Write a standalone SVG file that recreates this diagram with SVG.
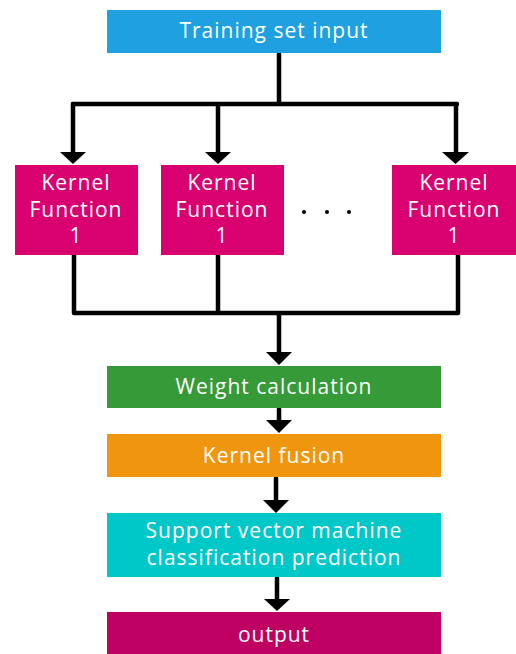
<svg xmlns="http://www.w3.org/2000/svg" width="516" height="654" viewBox="0 0 516 654">
<defs>
<style>
.t{font-family:"Open Sans","Noto Sans",sans-serif;font-size:21px;letter-spacing:1px;fill:#fff;text-anchor:middle}
.c{fill:none;stroke:#000;stroke-width:4.5;stroke-linejoin:round;stroke-linecap:round}
</style>
</defs>
<rect width="516" height="654" fill="#fff"/>
<g id="connectors">
<path class="c" d="M279,54 V104 M73,104 H457"/>
<path class="c" d="M73,104 V152"/>
<path d="M60,152 L86,152 L73,164 Z"/>
<path class="c" d="M218,104 V152"/>
<path d="M205,152 L231,152 L218,164 Z"/>
<path class="c" d="M456,104 V152"/>
<path d="M442,152 L469,152 L455.5,164 Z"/>
<path class="c" d="M74,255 V313 H458 V255 M218,255 V313 M279,313 V352"/>
<path d="M266,352 L292,352 L279,365 Z"/>
<path class="c" d="M279,409 V421"/>
<path d="M266,420 L292,420 L279,433 Z"/>
<path class="c" d="M276,478 V501"/>
<path d="M263,500 L289,500 L276,513 Z"/>
<path class="c" d="M277,578 V600"/>
<path d="M264,599 L290,599 L277,611 Z"/>
</g>
<g id="training-set-input">
<rect x="107" y="10" width="334" height="43" fill="#1EA0E1"/>
<text class="t" x="274" y="38">Training set input</text>
</g>
<g id="kernel-1">
<rect x="15" y="165" width="123" height="90" fill="#D9006F"/>
<text class="t" x="76" y="190">Kernel</text>
<text class="t" x="76" y="217">Function</text>
<text class="t" x="76" y="243">1</text>
</g>
<g id="kernel-2">
<rect x="161" y="165" width="123" height="90" fill="#D9006F"/>
<text class="t" x="222" y="190">Kernel</text>
<text class="t" x="222" y="217">Function</text>
<text class="t" x="222" y="243">1</text>
</g>
<g id="ellipsis">
<circle cx="304" cy="212" r="2" fill="#000"/>
<circle cx="327" cy="212" r="2" fill="#000"/>
<circle cx="349" cy="212" r="2" fill="#000"/>
</g>
<g id="kernel-n">
<rect x="392" y="165" width="124" height="90" fill="#D9006F"/>
<text class="t" x="454" y="190">Kernel</text>
<text class="t" x="454" y="217">Function</text>
<text class="t" x="454" y="243">1</text>
</g>
<g id="weight-calculation">
<rect x="107" y="366" width="334" height="42" fill="#359A37"/>
<text class="t" x="274" y="394">Weight calculation</text>
</g>
<g id="kernel-fusion">
<rect x="107" y="434" width="334" height="43" fill="#F0960E"/>
<text class="t" x="274" y="463">Kernel fusion</text>
</g>
<g id="svm">
<rect x="107" y="513" width="334" height="64" fill="#00C8C8"/>
<text class="t" x="274" y="538">Support vector machine</text>
<text class="t" x="274" y="565">classification prediction</text>
</g>
<g id="output">
<rect x="107" y="612" width="334" height="42" fill="#BF0062"/>
<text class="t" x="274" y="642">output</text>
</g>
</svg>
